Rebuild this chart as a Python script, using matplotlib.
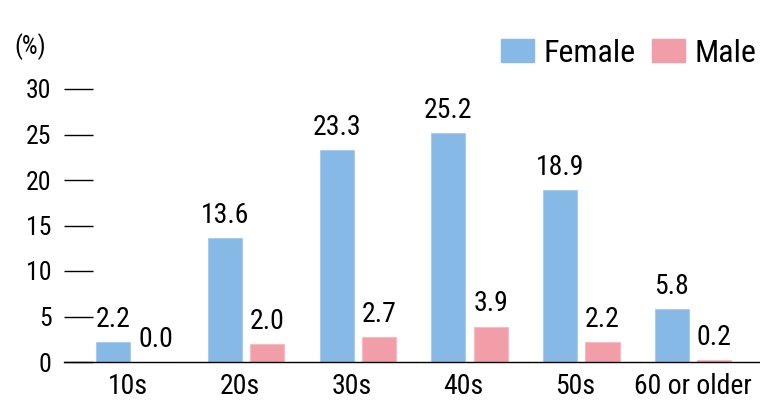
import matplotlib
matplotlib.use("Agg")
import matplotlib.pyplot as plt
import matplotlib.transforms as mtransforms
import numpy as np
from matplotlib.patches import Patch

plt.rcParams['font.family'] = ['Roboto Condensed', 'DejaVu Sans']

categories = ['10s', '20s', '30s', '40s', '50s', '60 or older']
female = [2.2, 13.6, 23.3, 25.2, 18.9, 5.8]
male = [0.0, 2.0, 2.7, 3.9, 2.2, 0.2]
yticks = [0, 5, 10, 15, 20, 25, 30]

c_female = '#86b9e6'
c_male = '#f29ea9'

fig = plt.figure(figsize=(7.6, 4.0), dpi=100)
ax = fig.add_axes([64 / 760, 38 / 400, 696 / 760, 273 / 400])

x = np.arange(len(categories))
w = 0.305
off = 0.19
b1 = ax.bar(x - off, female, w, color=c_female, edgecolor='#a9cdee', linewidth=0.8)
b2 = ax.bar(x + off, male, w, color=c_male, edgecolor='#f6bcc4', linewidth=0.8)
ax.bar_label(b1, labels=[f'{v:.1f}' for v in female], padding=6.5, fontsize=20)
ax.bar_label(b2, labels=[f'{v:.1f}' for v in male], padding=6.5, fontsize=20)

ax.set_xlim(-0.63, 5.6)
ax.set_ylim(0, 30)
ax.set_yticks(yticks)
ax.set_xticks(x)
ax.set_xticklabels(categories)
ax.tick_params(axis='y', direction='in', length=21, width=1, pad=9, labelsize=18.5)
ax.tick_params(axis='x', length=0, pad=8, labelsize=20)
for s in ['top', 'right', 'left']:
    ax.spines[s].set_visible(False)
ax.spines['bottom'].set_linewidth(1)

# the short labels sit a little left of the group centre in the original
shift = mtransforms.ScaledTranslation(-6 / 100, 0, fig.dpi_scale_trans)
for lab in ax.get_xticklabels()[:-1]:
    lab.set_transform(lab.get_transform() + shift)

fig.text(14 / 760, 1 - 47 / 400, '(%)', fontsize=18, va='center', ha='left')

handles = [Patch(color=c_female, label='Female'), Patch(color=c_male, label='Male')]
fig.legend(handles=handles, loc='center right', bbox_to_anchor=(756 / 760, 1 - 53 / 400), ncol=2,
           frameon=False, fontsize=23, handlelength=1.03, handleheight=0.72,
           handletextpad=0.28, columnspacing=0.53, borderpad=0, borderaxespad=0)

fig.savefig('out.png', dpi=100)
